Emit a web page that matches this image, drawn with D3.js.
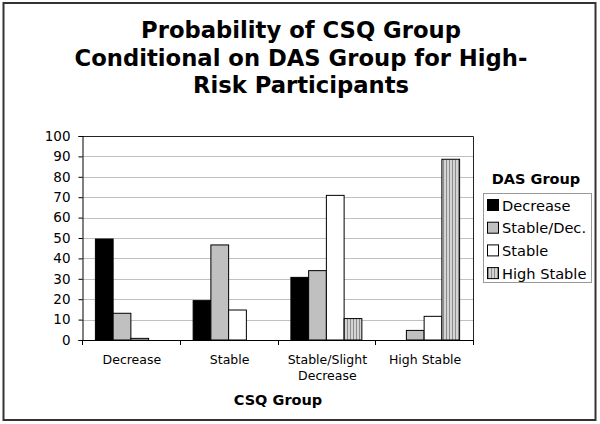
<!DOCTYPE html>
<html>
<head>
<meta charset="utf-8">
<script src="https://cdn.jsdelivr.net/npm/d3@7/dist/d3.min.js"></script>
<style>
  html, body { margin: 0; padding: 0; background: #fff; }
  svg { display: block; font-family: "DejaVu Sans", Verdana, sans-serif; }
</style>
</head>
<body>
<svg id="chart" width="600" height="424"></svg>
<script>
const titleLines = ["Probability of CSQ Group", "Conditional on DAS Group for High-", "Risk Participants"];
const categories = ["Decrease", "Stable", "Stable/Slight\nDecrease", "High Stable"];
const seriesNames = ["Decrease", "Stable/Dec.", "Stable", "High Stable"];
const sDecrease   = [49.5, 19.3, 30.7, 0];
const sStableDec  = [13.1, 46.6, 34.0, 4.7];
const sStable     = [0.8, 14.7, 70.9, 11.6];
const sHighStable = [0, 0, 10.5, 88.6];
const yTicks = [0, 10, 20, 30, 40, 50, 60, 70, 80, 90, 100];
const xTitle = "CSQ Group";
const legendTitle = "DAS Group";

const seriesValues = [sDecrease, sStableDec, sStable, sHighStable];
const fills = ["#000000", "#c0c0c0", "#ffffff", "url(#vstripe)"];

const svg = d3.select("#chart");

// pattern for High Stable
const defs = svg.append("defs");
const pat = defs.append("pattern").attr("id", "vstripe")
  .attr("patternUnits", "userSpaceOnUse").attr("width", 3).attr("height", 4);
pat.append("rect").attr("width", 3).attr("height", 4).attr("fill", "#d4d4d4");
pat.append("rect").attr("x", 2).attr("width", 1).attr("height", 4).attr("fill", "#8c8c8c");

// outer border
svg.append("rect").attr("x", 3.5).attr("y", 3).attr("width", 592).attr("height", 417)
  .attr("fill", "none").attr("stroke", "#333").attr("stroke-width", 2);

// title
svg.append("g").selectAll("text").data(titleLines).join("text")
  .attr("x", 301).attr("y", (d, i) => 38 + i * 27.5)
  .attr("text-anchor", "middle")
  .attr("font-weight", "bold").attr("font-size", 22.7)
  .attr("fill", "#000")
  .text(d => d);

const pLeft = 82, pRight = 473, pTop = 136, pBottom = 340;

const x0 = d3.scaleBand().domain(categories).range([pLeft, pRight]).paddingInner(0).paddingOuter(0);
const bw = x0.bandwidth();
const x1 = d3.scaleBand().domain(seriesNames).range([bw * 0.137, bw * 0.863]).padding(0);
const y = d3.scaleLinear().domain([0, 100]).range([pBottom, pTop]);

// gridlines
svg.append("g").selectAll("line").data(yTicks.filter(t => t > 0 && t < 100)).join("line")
  .attr("x1", pLeft).attr("x2", pRight)
  .attr("y1", d => Math.round(y(d)) + 0.5).attr("y2", d => Math.round(y(d)) + 0.5)
  .attr("stroke", "#c0c0c0").attr("stroke-width", 1);

// plot frame (top and right)
svg.append("path")
  .attr("d", `M${pLeft},${Math.round(y(100)) + 0.5}H${pRight + 0.5}V${pBottom}`)
  .attr("fill", "none").attr("stroke", "#222").attr("stroke-width", 1);

// bars
const barG = svg.append("g");
categories.forEach((c, ci) => {
  seriesNames.forEach((s, si) => {
    const v = seriesValues[si][ci];
    if (v <= 0) return;
    barG.append("rect")
      .attr("x", x0(c) + x1(s))
      .attr("y", y(v))
      .attr("width", x1.bandwidth())
      .attr("height", y(0) - y(v))
      .attr("fill", fills[si])
      .attr("stroke", "#000").attr("stroke-width", 1);
  });
});

// y axis
const yAxis = d3.axisLeft(y).tickValues(yTicks).tickSize(4).tickPadding(8);
const yg = svg.append("g").attr("transform", `translate(${pLeft + 0.5},0)`).call(yAxis);
yg.select(".domain").attr("stroke", "#000");
yg.selectAll(".tick line").attr("stroke", "#000");
yg.selectAll(".tick text").attr("font-size", 13.5).attr("fill", "#000")
  .attr("font-family", "DejaVu Sans, Verdana, sans-serif");

// x axis: line + ticks at category boundaries
const xg = svg.append("g");
xg.append("line").attr("x1", pLeft).attr("x2", pRight + 0.5)
  .attr("y1", pBottom + 0.5).attr("y2", pBottom + 0.5).attr("stroke", "#000");
const bounds = categories.map(c => x0(c)).concat([pRight]);
xg.selectAll("line.tk").data(bounds).join("line").attr("class", "tk")
  .attr("x1", d => Math.round(d) + 0.5).attr("x2", d => Math.round(d) + 0.5)
  .attr("y1", pBottom).attr("y2", pBottom + 5).attr("stroke", "#000");

// category labels
categories.forEach(c => {
  const lines = c.split("\n");
  const t = xg.append("text")
    .attr("x", x0(c) + bw / 2 + 1)
    .attr("y", 364)
    .attr("text-anchor", "middle")
    .attr("font-size", 12.5).attr("fill", "#000");
  lines.forEach((ln, i) => {
    t.append("tspan").attr("x", x0(c) + bw / 2 + 1).attr("dy", i === 0 ? 0 : 16).text(ln);
  });
});

// x title
svg.append("text").attr("x", 278).attr("y", 404.5)
  .attr("text-anchor", "middle").attr("font-weight", "bold").attr("font-size", 14.5)
  .text(xTitle);

// legend
svg.append("text").attr("x", 536).attr("y", 184)
  .attr("text-anchor", "middle").attr("font-weight", "bold").attr("font-size", 14.5)
  .text(legendTitle);
svg.append("rect").attr("x", 483.5).attr("y", 193.5).attr("width", 108).attr("height", 89)
  .attr("fill", "#fff").attr("stroke", "#999").attr("stroke-width", 1);
const lg = svg.append("g").selectAll("g").data(seriesNames).join("g")
  .attr("transform", (d, i) => `translate(0,${205 + i * 22.7})`);
lg.append("rect").attr("x", 487.5).attr("y", -5.5).attr("width", 11).attr("height", 11)
  .attr("fill", (d, i) => fills[i]).attr("stroke", "#000").attr("stroke-width", 1);
lg.append("text").attr("x", 502).attr("y", 5.5)
  .attr("font-size", 14.6).attr("fill", "#000").text(d => d);
</script>
</body>
</html>
